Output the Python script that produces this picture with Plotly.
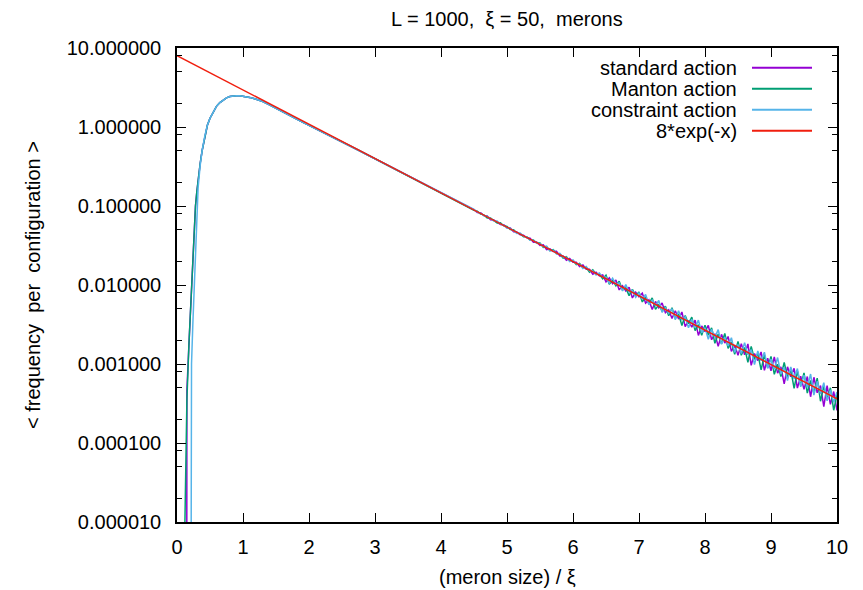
import plotly.graph_objects as go

# ---------------- data ----------------
# smooth part shared by all three series (x <= 4.25)
x_smooth = [0.16, 0.18, 0.20, 0.22, 0.24, 0.26, 0.28, 0.30, 0.32, 0.35, 0.38, 0.42, 0.46,
            0.50, 0.55, 0.60, 0.65, 0.70, 0.75, 0.80, 0.85, 0.90, 0.95, 1.00, 1.10, 1.20,
            1.30, 1.40, 1.50, 1.60, 1.70, 1.80, 1.90, 2.00, 2.25, 2.50, 2.75, 3.00, 3.25,
            3.50, 3.75, 4.00, 4.25]
y_smooth = [7.5e-4, 1.7e-3, 3.9e-3, 9.0e-3, 0.021, 0.046, 0.10, 0.15, 0.214, 0.34, 0.50, 0.76, 1.05,
            1.29, 1.58, 1.84, 2.04, 2.21, 2.34, 2.43, 2.47, 2.49, 2.48, 2.45, 2.37, 2.25,
            2.10, 1.91, 1.72, 1.55, 1.40, 1.27, 1.15, 1.05, 0.830, 0.650, 0.508, 0.396, 0.309,
            0.241, 0.188, 0.1465, 0.1141]

# start of each series (steep rise at small size)
std_x0 = [0.145, 0.15]
std_y0 = [1e-9, 4.7e-4]
man_x0 = [0.110, 0.12, 0.15]
man_y0 = [1e-9, 1.0e-5, 3.5e-4]
con_x0 = [0.205, 0.21, 0.22, 0.24, 0.26, 0.28, 0.30, 0.32, 0.35]
con_y0 = [1e-9, 4.7e-4, 1.0e-3, 3.2e-3, 0.010, 0.030, 0.080, 0.17, 0.32]

# noisy tail (x >= 4.5)
x_tail = [4.50, 4.55, 4.60, 4.65, 4.70, 4.75, 4.80, 4.85, 4.90, 4.95,
          5.00, 5.05, 5.10, 5.15, 5.20, 5.25, 5.30, 5.35, 5.40, 5.45,
          5.50, 5.55, 5.60, 5.65, 5.70, 5.75, 5.80, 5.85, 5.90, 5.95,
          6.00, 6.05, 6.10, 6.15, 6.20, 6.25, 6.30, 6.35, 6.40, 6.45,
          6.50, 6.55, 6.60, 6.65, 6.70, 6.75, 6.80, 6.85, 6.90, 6.95,
          7.00, 7.05, 7.10, 7.15, 7.20, 7.25, 7.30, 7.35, 7.40, 7.45,
          7.50, 7.55, 7.60, 7.65, 7.70, 7.75, 7.80, 7.85, 7.90, 7.95,
          8.00, 8.05, 8.10, 8.15, 8.20, 8.25, 8.30, 8.35, 8.40, 8.45,
          8.50, 8.55, 8.60, 8.65, 8.70, 8.75, 8.80, 8.85, 8.90, 8.95,
          9.00, 9.05, 9.10, 9.15, 9.20, 9.25, 9.30, 9.35, 9.40, 9.45,
          9.50, 9.55, 9.60, 9.65, 9.70, 9.75, 9.80, 9.85, 9.90, 9.95, 10.00]

std_tail = [0.0898, 0.0828, 0.0820, 0.0757, 0.0749, 0.0671, 0.0665, 0.0626, 0.0584, 0.0578,
            0.0534, 0.0528, 0.0473, 0.0469, 0.0432, 0.0428, 0.0395, 0.0391, 0.0347, 0.0351,
            0.0317, 0.0323, 0.0281, 0.0287, 0.0265, 0.0267, 0.0233, 0.0233, 0.0206, 0.0217,
            0.0194, 0.0194, 0.0171, 0.0179, 0.0158, 0.0158, 0.0137, 0.0145, 0.0130, 0.0134,
            0.01095, 0.01230, 0.01040, 0.01160, 0.00867, 0.00979, 0.00838, 0.00937, 0.00686, 0.00813,
            0.00708, 0.00788, 0.00591, 0.00647, 0.00490, 0.00619, 0.00516, 0.00591, 0.00445, 0.00486,
            0.003760, 0.004714, 0.003704, 0.004551, 0.002971, 0.003549, 0.002934, 0.003586, 0.002299, 0.003033,
            0.002563, 0.003089, 0.002027, 0.002414, 0.001670, 0.002372, 0.001839, 0.002231, 0.001448, 0.001737,
            0.001286, 0.001809, 0.001308, 0.001793, 0.000960, 0.001357, 0.001105, 0.001420, 0.000831, 0.001183,
            0.000821, 0.001228, 0.000768, 0.000921, 0.000559, 0.000920, 0.000690, 0.000881, 0.000495, 0.000701,
            0.000477, 0.000694, 0.000385, 0.000679, 0.000433, 0.000534, 0.000289, 0.000532, 0.000308, 0.000448,
            0.000258]

man_tail = [0.0880, 0.0862, 0.0788, 0.0773, 0.0706, 0.0706, 0.0658, 0.0608, 0.0614, 0.0561,
            0.0550, 0.0503, 0.0502, 0.0455, 0.0446, 0.0407, 0.0407, 0.0372, 0.0372, 0.0340,
            0.0340, 0.0299, 0.0305, 0.0273, 0.0281, 0.0250, 0.0247, 0.0219, 0.0228, 0.0202,
            0.0204, 0.0181, 0.0188, 0.0166, 0.0166, 0.0145, 0.0156, 0.0137, 0.0137, 0.0120,
            0.01329, 0.01024, 0.01154, 0.00974, 0.01118, 0.00867, 0.00918, 0.00734, 0.00880, 0.00732,
            0.00817, 0.00611, 0.00700, 0.00581, 0.00687, 0.00491, 0.00565, 0.00468, 0.00540, 0.00409,
            0.005154, 0.003767, 0.004304, 0.003065, 0.004112, 0.003239, 0.003917, 0.002650, 0.003144, 0.002313,
            0.003087, 0.002323, 0.002865, 0.001825, 0.002395, 0.001808, 0.002435, 0.001579, 0.001907, 0.001326,
            0.001924, 0.001289, 0.001617, 0.001048, 0.001669, 0.001144, 0.001358, 0.000842, 0.001305, 0.000893,
            0.001250, 0.000742, 0.000993, 0.000695, 0.001046, 0.000683, 0.000844, 0.000491, 0.000810, 0.000533,
            0.000773, 0.000429, 0.000621, 0.000425, 0.000661, 0.000338, 0.000528, 0.000361, 0.000500, 0.000260,
            0.000405]

con_tail = [0.0906, 0.0837, 0.0812, 0.0750, 0.0742, 0.0692, 0.0645, 0.0645, 0.0590, 0.0572,
            0.0523, 0.0523, 0.0488, 0.0450, 0.0455, 0.0416, 0.0403, 0.0369, 0.0369, 0.0337,
            0.0333, 0.0305, 0.0311, 0.0270, 0.0276, 0.0247, 0.0252, 0.0226, 0.0224, 0.0198,
            0.0208, 0.0185, 0.0183, 0.0162, 0.0172, 0.0151, 0.0151, 0.0134, 0.0142, 0.0125,
            0.01257, 0.01058, 0.01220, 0.01020, 0.01059, 0.00839, 0.01011, 0.00810, 0.00855, 0.00698,
            0.00795, 0.00663, 0.00759, 0.00562, 0.00642, 0.00551, 0.00638, 0.00452, 0.00518, 0.00437,
            0.005021, 0.003641, 0.004725, 0.003637, 0.003949, 0.002877, 0.003671, 0.002884, 0.003589, 0.002482,
            0.002885, 0.002055, 0.002756, 0.002171, 0.002724, 0.001777, 0.002197, 0.001692, 0.002150, 0.001403,
            0.001765, 0.001354, 0.001865, 0.001303, 0.001520, 0.000984, 0.001459, 0.001099, 0.001412, 0.000878,
            0.001153, 0.000860, 0.001206, 0.000743, 0.000910, 0.000618, 0.000915, 0.000647, 0.000875, 0.000515,
            0.000721, 0.000504, 0.000746, 0.000403, 0.000604, 0.000419, 0.000579, 0.000342, 0.000471, 0.000327,
            0.000442]

# reference curve 8*exp(-x) evaluated at the ends (straight line on log axis)
fit_x = [0.0, 10.0]
fit_y = [8.0, 0.000363]

series_names = ["standard action", "Manton action", "constraint action", "8*exp(-x)"]
series_colors = ["#9400d3", "#009e73", "#56b4e9", "#f01e0e"]

y_major = [1e-5, 1e-4, 1e-3, 1e-2, 1e-1, 1, 10]
y_major_text = ["0.000010", "0.000100", "0.001000", "0.010000", "0.100000", "1.000000", "10.000000"]
y_minor = [2e-5, 5e-5, 8e-5, 2e-4, 5e-4, 8e-4, 2e-3, 5e-3, 8e-3,
           2e-2, 5e-2, 8e-2, 0.2, 0.5, 0.8, 2, 5, 8]
x_ticks = [0, 1, 2, 3, 4, 5, 6, 7, 8, 9, 10]

# ---------------- figure ----------------
std_x = std_x0 + x_smooth[1:] + x_tail
std_y = std_y0 + y_smooth[1:] + std_tail
man_x = man_x0 + x_smooth + x_tail
man_y = man_y0 + y_smooth + man_tail
con_x = con_x0 + x_smooth[10:] + x_tail
con_y = con_y0 + y_smooth[10:] + con_tail

FONT = "Liberation Sans, Arial, sans-serif"
FS = 20

fig = go.Figure()
for xs, ys, name, col in [(std_x, std_y, series_names[0], series_colors[0]),
                          (man_x, man_y, series_names[1], series_colors[1]),
                          (con_x, con_y, series_names[2], series_colors[2]),
                          (fit_x, fit_y, series_names[3], series_colors[3])]:
    fig.add_trace(go.Scatter(x=xs, y=ys, mode="lines", name=name,
                             line=dict(color=col, width=1.5), showlegend=False))

L, R, T, B = 177, 837, 48, 522
W, H = 863, 590
pw, ph = R - L, B - T

def px(xp):
    return (xp - L) / pw

def py(yp):
    return (B - yp) / ph

annotations = []
shapes = []
# legend (text left of sample lines, gnuplot style)
leg_rows = [67.7, 88.7, 109.7, 130.7]
for name, col, yr in zip(series_names, series_colors, leg_rows):
    annotations.append(dict(x=px(739), y=py(yr), xref="paper", yref="paper", text=name,
                            showarrow=False, xanchor="right", yanchor="middle",
                            font=dict(family=FONT, size=FS, color="black")))
    shapes.append(dict(type="line", xref="paper", yref="paper", x0=px(752), x1=px(812),
                       y0=py(yr), y1=py(yr), line=dict(color=col, width=2)))

annotations.append(dict(x=0.5, y=py(18.7), xref="paper", yref="paper",
                        text="L = 1000,\u00a0 ξ = 50,\u00a0 merons", showarrow=False,
                        xanchor="center", yanchor="middle",
                        font=dict(family=FONT, size=FS, color="black")))
annotations.append(dict(x=0.5, y=py(577), xref="paper", yref="paper",
                        text="(meron size) / ξ", showarrow=False,
                        xanchor="center", yanchor="middle",
                        font=dict(family=FONT, size=FS, color="black")))
annotations.append(dict(x=px(33), y=0.5, xref="paper", yref="paper",
                        text="< frequency\u00a0 per\u00a0 configuration >", showarrow=False,
                        textangle=-90, xanchor="center", yanchor="middle",
                        font=dict(family=FONT, size=FS, color="black")))

fig.update_layout(
    width=W, height=H,
    margin=dict(l=L, r=W - R, t=T, b=H - B, pad=0),
    paper_bgcolor="white", plot_bgcolor="white",
    font=dict(family=FONT, size=FS, color="black"),
    annotations=annotations, shapes=shapes,
    showlegend=False,
)
fig.update_xaxes(range=[0, 10], tickmode="array", tickvals=x_ticks,
                 ticks="inside", ticklen=9, tickwidth=1, tickcolor="black",
                 showline=True, linecolor="black", linewidth=1.5, mirror="allticks",
                 showgrid=False, zeroline=False, ticklabelstandoff=6,
                 tickfont=dict(family=FONT, size=FS, color="black"))
fig.update_yaxes(type="log", range=[-5, 1], tickmode="array", tickvals=y_major,
                 ticktext=y_major_text,
                 ticks="inside", ticklen=9, tickwidth=1, tickcolor="black",
                 minor=dict(tickmode="array", tickvals=y_minor, ticks="inside", ticklen=5,
                            tickwidth=1, tickcolor="black", showgrid=False),
                 showline=True, linecolor="black", linewidth=1.5, mirror="allticks",
                 showgrid=False, zeroline=False, ticklabelstandoff=10,
                 tickfont=dict(family=FONT, size=FS, color="black"))

fig.write_html("out.html")
